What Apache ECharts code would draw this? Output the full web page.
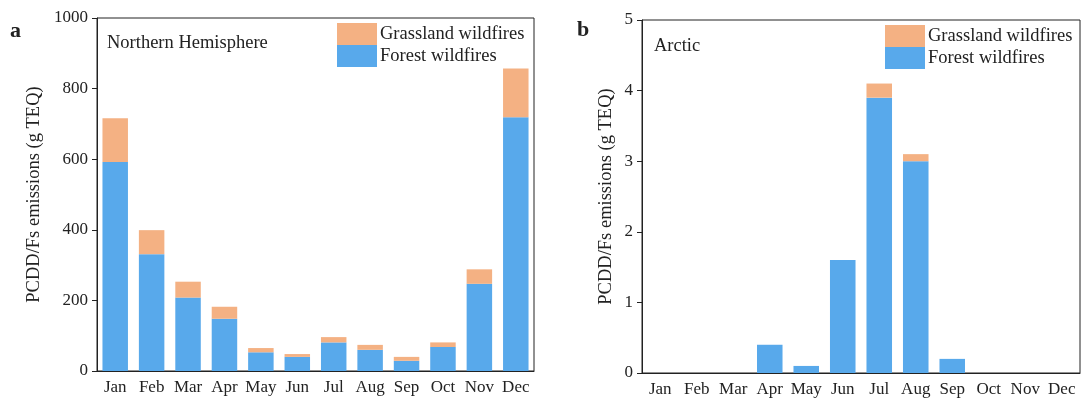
<!DOCTYPE html>
<html><head><meta charset="utf-8">
<script src="https://cdn.jsdelivr.net/npm/echarts@6/dist/echarts.min.js"></script>
<style>html,body{margin:0;padding:0;background:#fff}#c{width:1084px;height:407px}</style>
</head><body><div id="c"></div>
<script>
var months = ['Jan','Feb','Mar','Apr','May','Jun','Jul','Aug','Sep','Oct','Nov','Dec'];
var nhForest = [592,331,208,148,53,40,81,60,29,68,247,719];
var nhGrass  = [124,68,45,34,12,8,15,14,11,13,41,138];
var arForest = [0,0,0,0.4,0.1,1.6,3.9,3.0,0.2,0,0,0];
var arGrass  = [0,0,0,0,0,0,0.2,0.1,0,0,0,0];
var nhTicks = {min:0, max:1000, interval:200};
var arTicks = {min:0, max:5, interval:1};

var FONT = "'Liberation Serif','Times New Roman',serif";
var INK = '#222';
var ORANGE = '#F4B183';
var BLUE = '#58A9EB';

function xAx(gi){
  return {type:'category', gridIndex:gi, data:months,
    axisLine:{lineStyle:{color:INK,width:1}},
    axisTick:{alignWithLabel:true,length:5,lineStyle:{color:INK}},
    axisLabel:{color:INK,fontFamily:FONT,fontSize:17,margin:8,interval:0}};
}
function yAx(gi,t,gap){
  return {type:'value', gridIndex:gi, min:t.min, max:t.max, interval:t.interval,
    name:'PCDD/Fs emissions (g TEQ)', nameLocation:'middle', nameGap:gap,
    nameTextStyle:{color:INK,fontFamily:FONT,fontSize:18.5},
    axisLine:{show:true,lineStyle:{color:INK,width:1}},
    axisTick:{show:true,length:5,lineStyle:{color:INK}},
    splitLine:{show:false},
    axisLabel:{color:INK,fontFamily:FONT,fontSize:17,margin:9,formatter:function(v){return String(v);}}};
}
function leg(left,top){
  return {orient:'vertical', left:left, top:top, itemWidth:40, itemHeight:22, itemGap:0,
    padding:0, icon:'rect', data:['Grassland wildfires','Forest wildfires'],
    textStyle:{color:INK,fontFamily:FONT,fontSize:18.5,padding:[0,0,0,-2]}};
}
function txt(x,y,s,size,weight){
  return {type:'text', style:{x:x,y:y,text:s,fill:INK,fontFamily:FONT,fontSize:size,fontWeight:weight||'normal',verticalAlign:'middle'}};
}
var chart = echarts.init(document.getElementById('c'));
chart.setOption({
  animation:false,
  backgroundColor:'#fff',
  grid:[
    {left:97, top:18, width:437, height:353, show:true, borderColor:INK, borderWidth:1, backgroundColor:'transparent'},
    {left:642, top:20, width:438, height:353, show:true, borderColor:INK, borderWidth:1, backgroundColor:'transparent'}
  ],
  xAxis:[xAx(0), xAx(1)],
  yAxis:[yAx(0,nhTicks,53), yAx(1,arTicks,26)],
  legend:[leg(337,23), leg(885,25)],
  graphic:[
    txt(10,31,'a',22,'bold'),
    txt(577,30,'b',22,'bold'),
    txt(107,43.5,'Northern Hemisphere',18.5),
    txt(654,46,'Arctic',18.5)
  ],
  series:[
    {name:'Forest wildfires', type:'bar', stack:'nh', xAxisIndex:0, yAxisIndex:0, data:nhForest, barWidth:'70%', itemStyle:{color:BLUE}},
    {name:'Grassland wildfires', type:'bar', stack:'nh', xAxisIndex:0, yAxisIndex:0, data:nhGrass, barWidth:'70%', itemStyle:{color:ORANGE}},
    {name:'Forest wildfires', type:'bar', stack:'ar', xAxisIndex:1, yAxisIndex:1, data:arForest, barWidth:'70%', itemStyle:{color:BLUE}},
    {name:'Grassland wildfires', type:'bar', stack:'ar', xAxisIndex:1, yAxisIndex:1, data:arGrass, barWidth:'70%', itemStyle:{color:ORANGE}}
  ]
});
</script></body></html>
